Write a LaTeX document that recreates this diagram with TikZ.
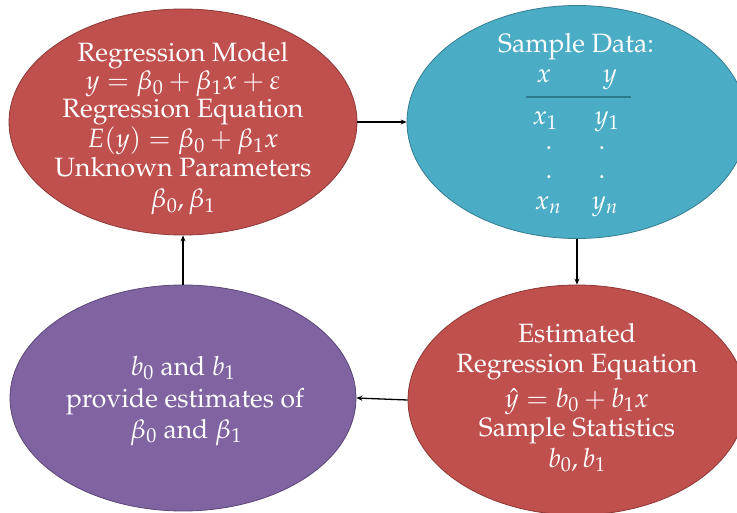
\documentclass[tikz,border=0pt]{standalone}
\usepackage[T1]{fontenc}
\usepackage{mathpazo}
\usetikzlibrary{shapes.geometric,arrows.meta}
\definecolor{redfill}{HTML}{C0504D}
\definecolor{redline}{HTML}{8C3836}
\definecolor{bluefill}{HTML}{4BACC6}
\definecolor{blueline}{HTML}{357D91}
\definecolor{purpfill}{HTML}{8064A2}
\definecolor{purpline}{HTML}{5C4776}
\definecolor{rulecol}{HTML}{2E7A8E}
\begin{document}
\begin{tikzpicture}[x=1pt,y=-1pt,
  blob/.style={ellipse, draw, line width=0.8pt, inner sep=0pt},
  txt/.style={text=white, font=\fontsize{26.5}{29}\selectfont, anchor=base, inner sep=0pt},
  conn/.style={-{Stealth[length=6pt,width=5pt]}, line width=1.3pt, black}]
\useasboundingbox (0,0) rectangle (737,513);

% ellipses
\node[blob, fill=redfill, draw=redline, minimum width=348pt, minimum height=226pt] (tl) at (183,122) {};
\node[blob, fill=bluefill, draw=blueline, minimum width=340pt, minimum height=233pt] (tr) at (577,122) {};
\node[blob, fill=redfill, draw=redline, minimum width=338pt, minimum height=230pt] (br) at (577,400) {};
\node[blob, fill=purpfill, draw=purpline, minimum width=346pt, minimum height=226pt] (bl) at (183,398) {};

% top-left text
\node[txt] (tl1) at (183,62) {Regression Model};
\node[txt] (tl2) at (183,90) {$y = \beta_0 + \beta_1 x + \varepsilon$};
\node[txt] (tl3) at (183,118) {Regression Equation};
\node[txt] (tl4) at (183,148) {$E(y) = \beta_0 + \beta_1 x$};
\node[txt] (tl5) at (183,177) {Unknown Parameters};
\node[txt] (tl6) at (183,208) {$\beta_0, \beta_1$};

% top-right text
\node[txt] (tr1) at (576,53) {Sample Data:};
\node[txt] (trx) at (544,83) {$x$};
\node[txt] (try) at (610,83) {$y$};
\coordinate (rl) at (526,97);
\coordinate (rr) at (631,97);
\draw[rulecol, line width=1.5pt] (rl) -- (rr);
\node[txt] (trx1) at (545,125) {$x_1$};
\node[txt] (try1) at (607,125) {$y_1$};
\node[txt] (trd1) at (549,150) {.};
\node[txt] (trd2) at (602,150) {.};
\node[txt] (trd3) at (549,179) {.};
\node[txt] (trd4) at (602,179) {.};
\node[txt] (trxn) at (548,210) {$x_n$};
\node[txt] (tryn) at (605,210) {$y_n$};

% bottom-right text
\node[txt] (br1) at (577,342) {Estimated};
\node[txt] (br2) at (577,373) {Regression Equation};
\node[txt] (br3) at (577,407) {$\hat{y} = b_0 + b_1 x$};
\node[txt] (br4) at (577,436) {Sample Statistics};
\node[txt] (br5) at (577,467) {$b_0, b_1$};

% bottom-left text
\node[txt] (bl1) at (183,375) {$b_0$ and $b_1$};
\node[txt] (bl2) at (185,407) {provide estimates of};
\node[txt] (bl3) at (186,438) {$\beta_0$ and $\beta_1$};

% connectors
\draw[conn] (tl.east) -- (tr.west);
\draw[conn] (tr.south) -- (br.north);
\draw[conn] (br.west) -- (bl.east);
\draw[conn] (bl.north) -- (tl.south);
\end{tikzpicture}
\end{document}
